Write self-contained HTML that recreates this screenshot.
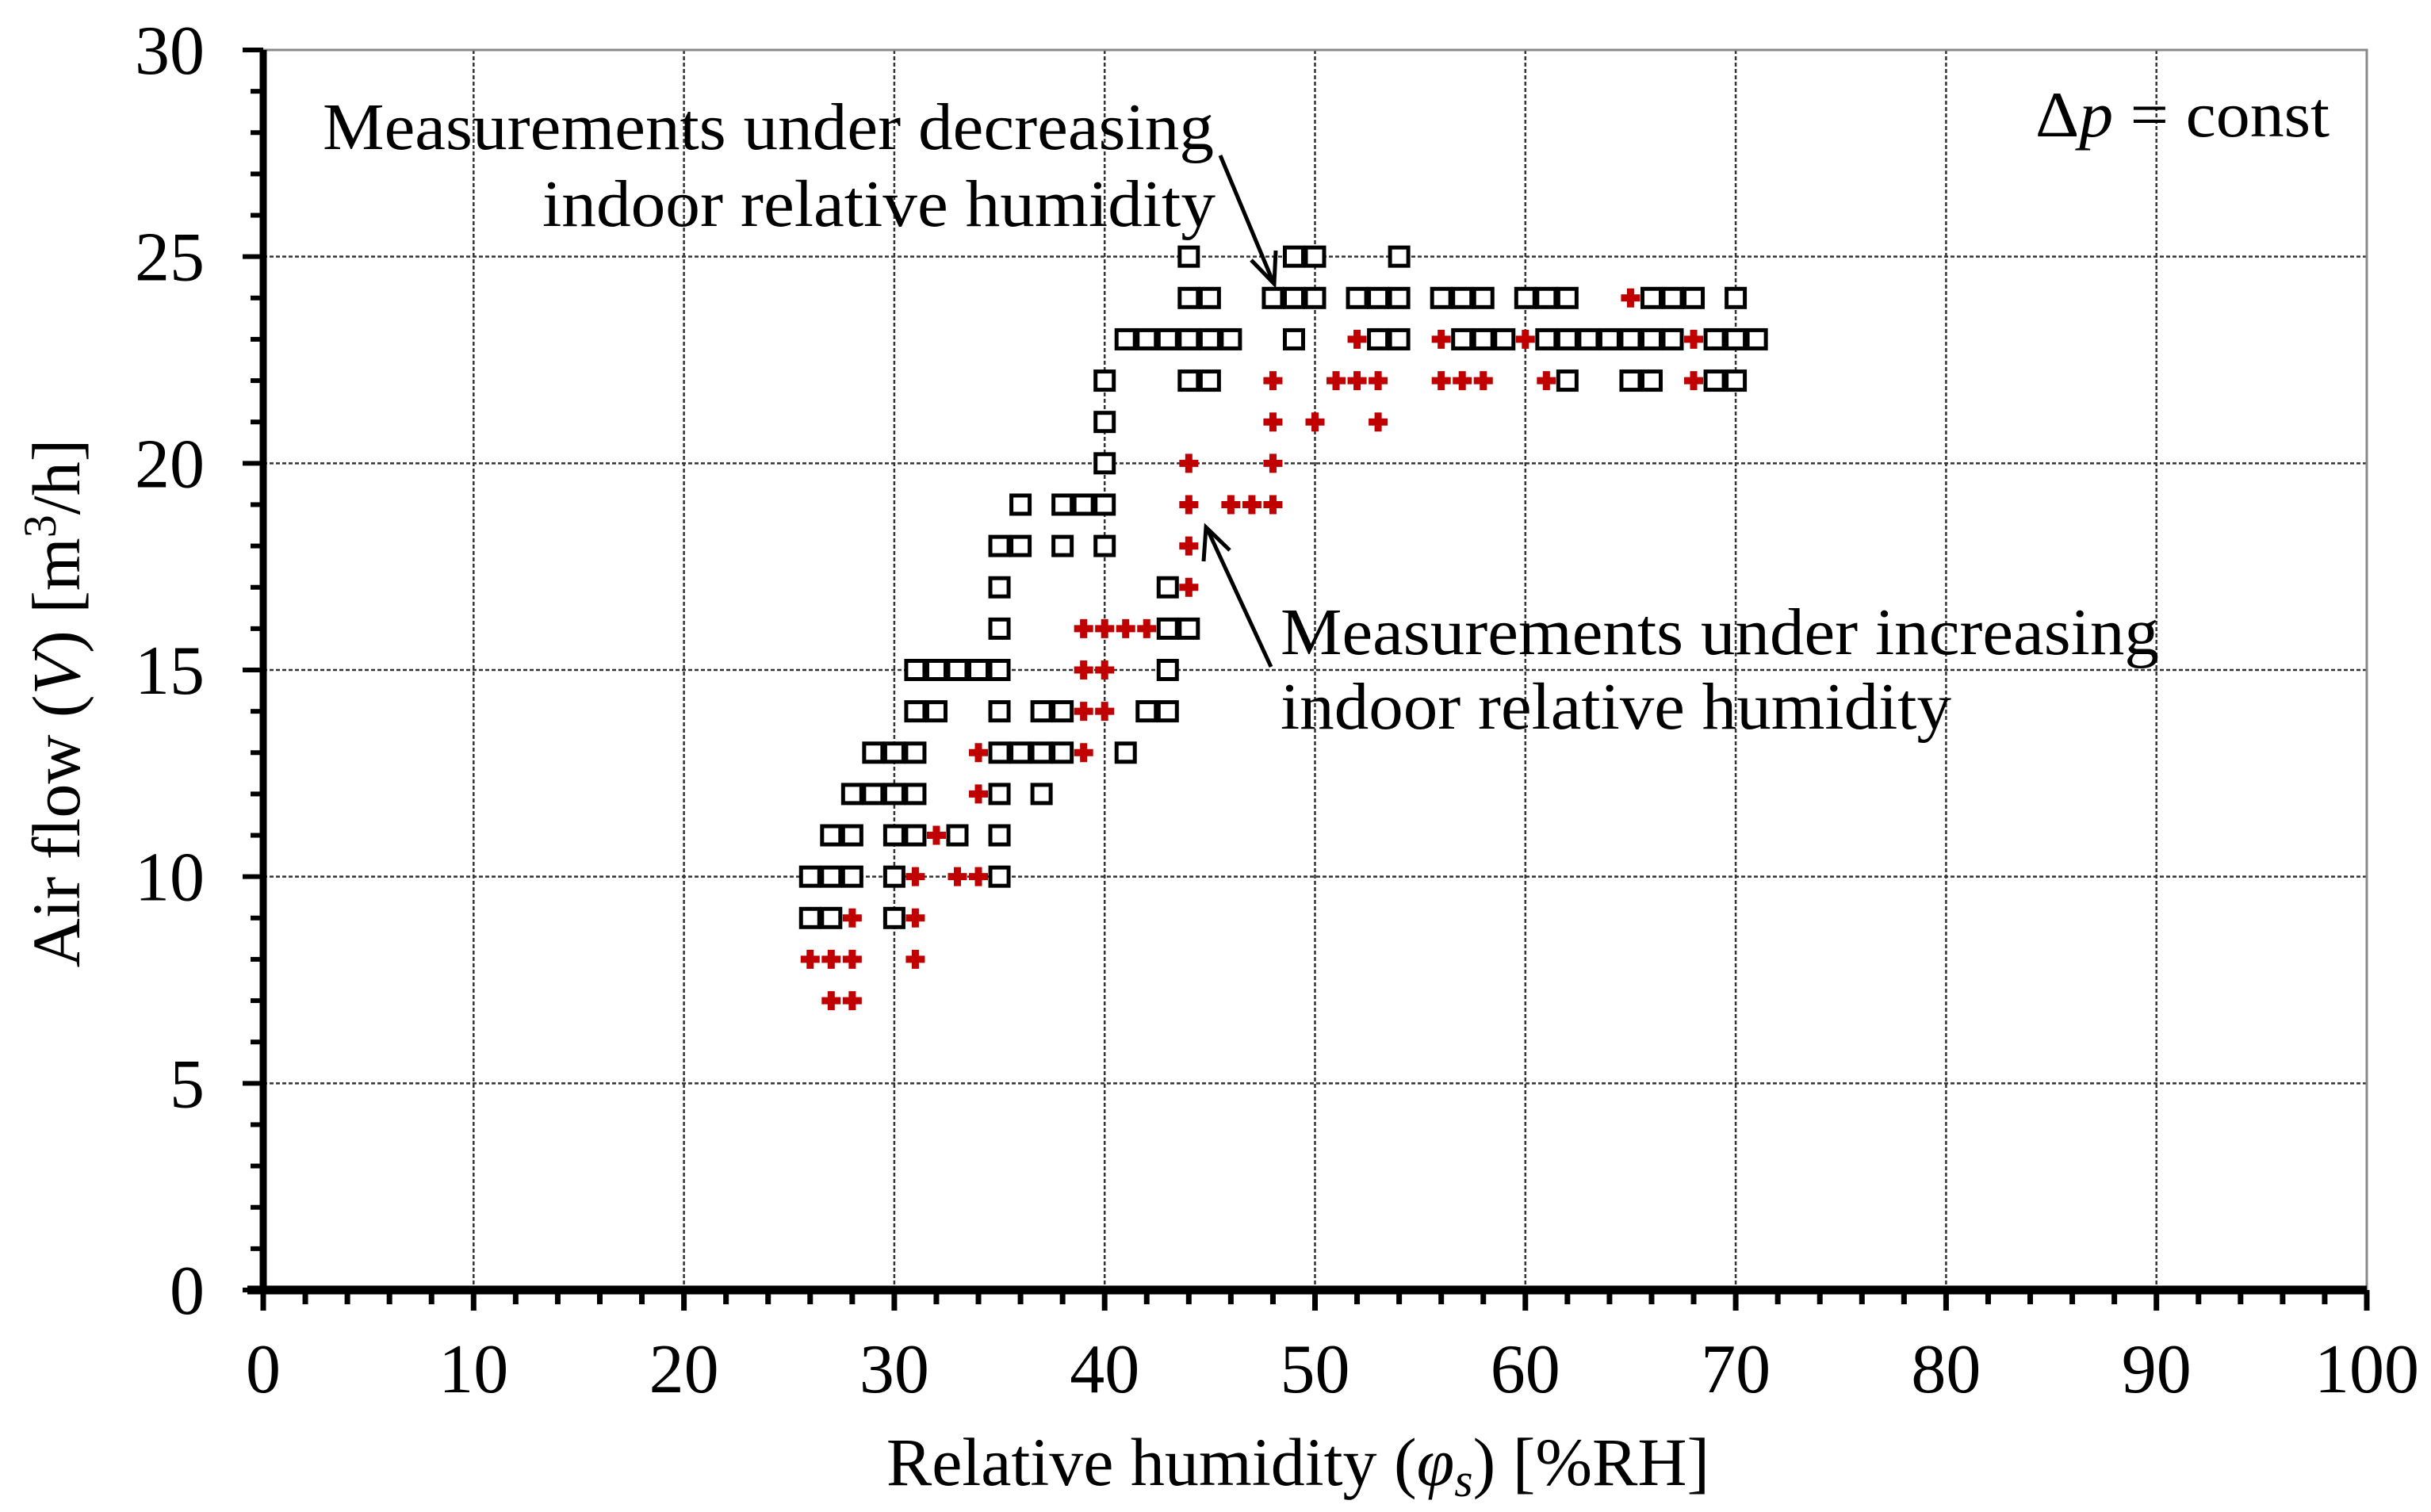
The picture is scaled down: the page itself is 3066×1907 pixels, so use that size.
<!DOCTYPE html>
<html><head><meta charset="utf-8"><style>
html,body{margin:0;padding:0;background:#fff;}
svg{display:block;}
text{font-family:"Liberation Serif",serif;fill:#000;}
</style></head><body>
<svg id="chart" width="3066" height="1907" viewBox="0 0 3066 1907" xmlns="http://www.w3.org/2000/svg">
<g id="grid"></g>
<g id="axes"></g>
<g id="marks"></g>
<g id="labels"></g>
<text x="2567" y="172" font-size="82" textLength="371" lengthAdjust="spacingAndGlyphs">Δ<tspan font-style="italic">p</tspan> = const</text>
<g>
<text x="407" y="188" font-size="84" textLength="1124" lengthAdjust="spacingAndGlyphs">Measurements under decreasing</text>
<text x="684" y="285" font-size="84" textLength="849" lengthAdjust="spacingAndGlyphs">indoor relative humidity</text>
<line x1="1539" y1="196" x2="1605" y2="354" stroke="#000" stroke-width="5"/>
<polyline points="1578,328 1607,358 1609,316" fill="none" stroke="#000" stroke-width="5"/>
</g>
<g>
<text x="1615" y="825" font-size="84" textLength="1108" lengthAdjust="spacingAndGlyphs">Measurements under increasing</text>
<text x="1615" y="919" font-size="84" textLength="846" lengthAdjust="spacingAndGlyphs">indoor relative humidity</text>
<line x1="1603" y1="841" x2="1523" y2="668" stroke="#000" stroke-width="5"/>
<polyline points="1518,708 1521,665 1551,694" fill="none" stroke="#000" stroke-width="5"/>
</g>
<text x="1637" y="1873" font-size="86" text-anchor="middle">Relative humidity (<tspan font-style="italic">φ<tspan font-size="60" dy="14">s</tspan></tspan><tspan dy="-14">) [%RH]</tspan></text>
<text transform="translate(100,887) rotate(-90)" font-size="86" text-anchor="middle">Air flow (<tspan font-style="italic">V</tspan>) [m<tspan font-size="58" dy="-30">3</tspan><tspan dy="30">/h]</tspan></text>
</svg>
<script>
const xTicks=[0,10,20,30,40,50,60,70,80,90,100];
const yTicks=[0,5,10,15,20,25,30];
const squareX=[44,49,50,54, 44,45,48,49,50,52,53,54,56,57,58,60,61,62,66,67,68,70, 41,42,43,44,45,46,49,53,54,57,58,59,61,62,63,64,65,66,67,69,70,71, 40,44,45,62,65,66,69,70, 40, 40, 36,38,39,40, 35,36,38,40, 35,43, 35,43,44, 31,32,33,34,35,43, 31,32,35,37,38,42,43, 29,30,31,35,36,37,38,41, 28,29,30,31,35,37, 27,28,30,31,33,35, 26,27,28,30,35, 26,27,30];
const squareY=[25,25,25,25, 24,24,24,24,24,24,24,24,24,24,24,24,24,24,24,24,24,24, 23,23,23,23,23,23,23,23,23,23,23,23,23,23,23,23,23,23,23,23,23,23, 22,22,22,22,22,22,22,22, 21, 20, 19,19,19,19, 18,18,18,18, 17,17, 16,16,16, 15,15,15,15,15,15, 14,14,14,14,14,14,14, 13,13,13,13,13,13,13,13, 12,12,12,12,12,12, 11,11,11,11,11,11, 10,10,10,10,10, 9,9,9];
const plusX=[65, 52,56,60,68, 48,51,52,53,56,57,58,61,68, 48,50,53, 44,48, 44,46,47,48, 44, 44, 39,40,41,42, 39,40, 39,40, 34,39, 34, 32, 31,33,34, 28,31, 26,27,28,31, 27,28];
const plusY=[24, 23,23,23,23, 22,22,22,22,22,22,22,22,22, 21,21,21, 20,20, 19,19,19,19, 18, 17, 16,16,16,16, 15,15, 14,14, 13,13, 12, 11, 10,10,10, 9,9, 8,8,8,8, 7,7];

const NS="http://www.w3.org/2000/svg";
const L=332,R=2985,T=63,B=1627;
function sx(v){return L+(v-0)/(100-0)*(R-L);}
function sy(v){return B-(v-0)/(30-0)*(B-T);}
function mk(tag,attrs,parent){const e=document.createElementNS(NS,tag);for(const k in attrs)e.setAttribute(k,attrs[k]);parent.appendChild(e);return e;}
const grid=document.getElementById('grid'),axes=document.getElementById('axes'),marks=document.getElementById('marks'),labels=document.getElementById('labels');

let border=mk('rect',{x:L,y:T,width:R-L,height:B-T,fill:'none',stroke:'#888',"stroke-width":3},axes);



xTicks.forEach(v=>{
  if(v>0&&v<100){const g=mk('line',{x1:sx(v),y1:T,x2:sx(v),y2:B,stroke:'#333',"stroke-width":2.5,"stroke-dasharray":"5 3"},grid);
  
  }
  const t=mk('text',{x:sx(v),y:1756,"font-size":88,"text-anchor":"middle"},labels);t.textContent=v;
  
  
});
yTicks.forEach(v=>{
  if(v>0){const g=mk('line',{x1:L,y1:sy(v),x2:R,y2:sy(v),stroke:'#333',"stroke-width":2.5,"stroke-dasharray":"5 3"},grid);
  
  }
  const t=mk('text',{x:258,y:sy(v)+30,"font-size":88,"text-anchor":"end"},labels);t.textContent=v;
  
  
});
for(let v=0;v<=100;v+=2){const maj=v%10===0;mk('line',{x1:sx(v),y1:B,x2:sx(v),y2:B+(maj?26:18),stroke:'#000',"stroke-width":7},axes);}
for(let v=0;v<=30;v+=1){const maj=v%5===0;mk('line',{x1:L,y1:sy(v),x2:L-(maj?26:16),y2:sy(v),stroke:'#000',"stroke-width":6},axes);}
const xa=mk('line',{x1:L-20,y1:B,x2:R,y2:B,stroke:'#000',"stroke-width":11},axes);


const ya=mk('line',{x1:L,y1:T,x2:L,y2:B+5,stroke:'#000',"stroke-width":9},axes);



squareX.forEach((x,i)=>{
  const r=mk('rect',{x:sx(x)-11.5,y:sy(squareY[i])-11.5,width:23,height:23,fill:'#fff',stroke:'#000',"stroke-width":5},marks);
  
  
});
plusX.forEach((x,i)=>{
  const cx=sx(x),cy=sy(plusY[i]);
  const p=mk('path',{d:`M${cx-12},${cy}H${cx+12}M${cx},${cy-12}V${cy+12}`,stroke:'#c00000',"stroke-width":9,fill:'none'},marks);
  
  
});
</script>
</body></html>
